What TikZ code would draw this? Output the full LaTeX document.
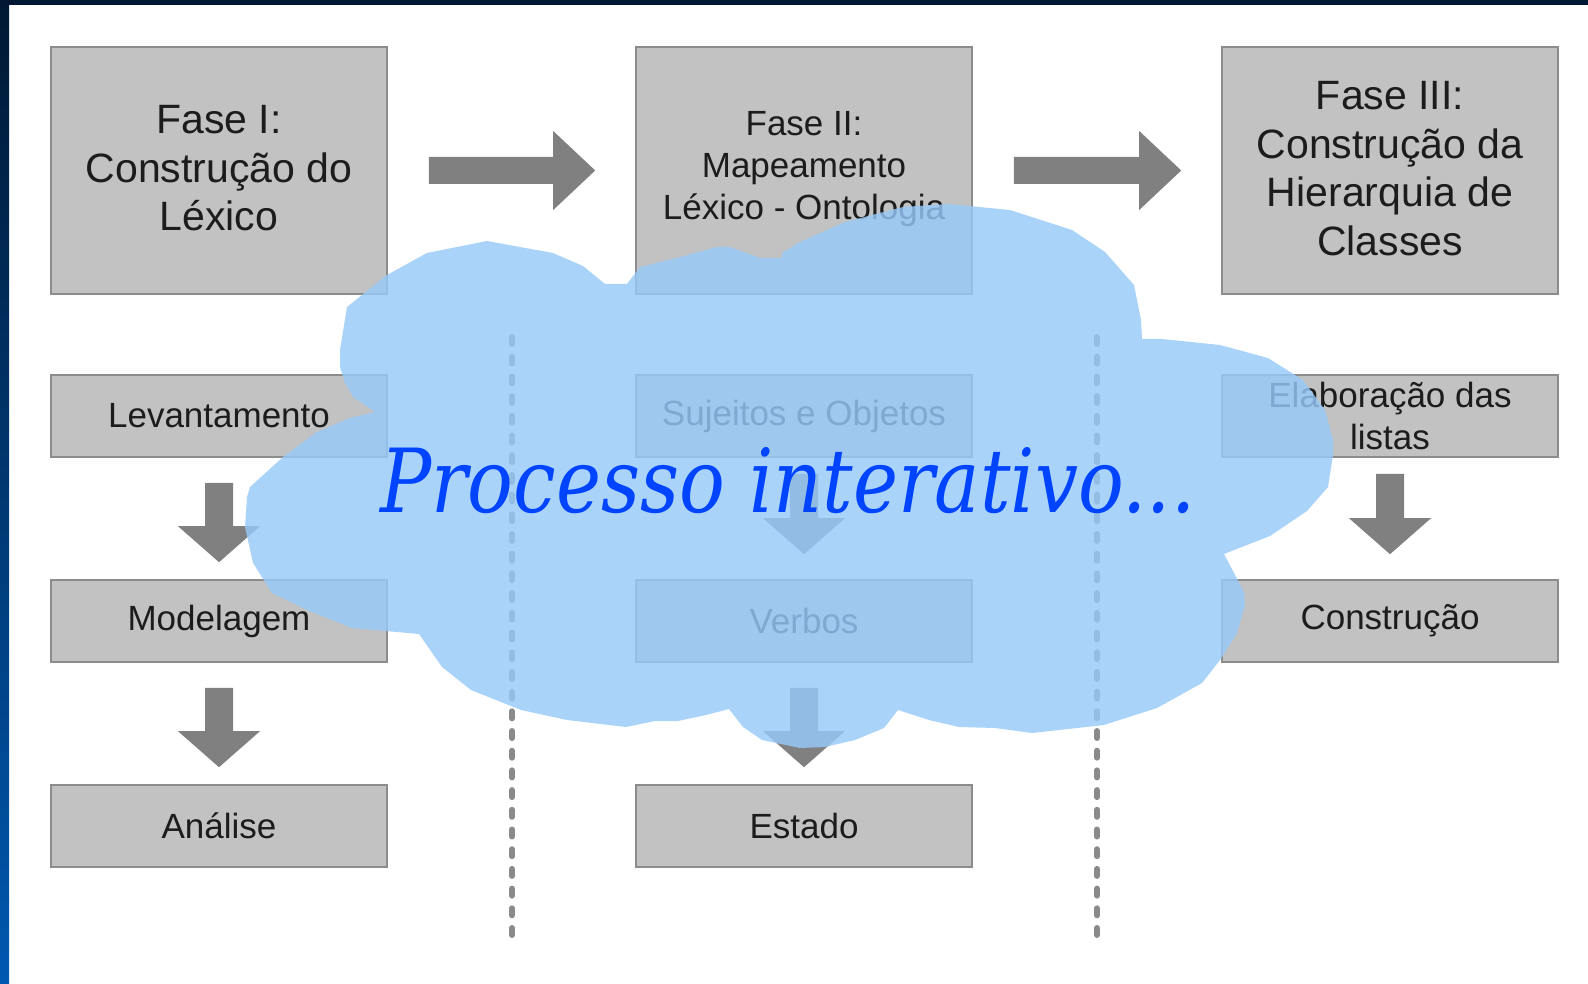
\documentclass[tikz,border=0pt]{standalone}
\usepackage{fontspec}
\setmainfont{Liberation Sans}
\newfontfamily\cloudfont{DejaVu Serif}
\usetikzlibrary{calc}

\definecolor{boxfill}{RGB}{194,194,194}
\definecolor{boxline}{RGB}{140,140,140}
\definecolor{arrowgray}{RGB}{128,128,128}
\definecolor{dotgray}{RGB}{138,138,138}
\definecolor{cloudblue}{RGB}{151,202,250}
\definecolor{titleblue}{RGB}{0,68,255}
\definecolor{navytop}{RGB}{0,24,51}
\definecolor{navybottom}{RGB}{0,88,176}
\definecolor{textdark}{RGB}{28,28,28}

\tikzset{
  phasebox/.style={draw=boxline, line width=1.6pt, fill=boxfill, text=textdark,
    minimum width=336pt, minimum height=247pt, inner sep=0pt, align=center},
  stagebox/.style={draw=boxline, line width=1.6pt, fill=boxfill, text=textdark,
    minimum width=336pt, minimum height=82pt, inner sep=0pt, align=center,
    font=\fontsize{35}{42}\selectfont},
  bigtext/.style={font=\fontsize{41}{48.5}\selectfont},
  midtext/.style={font=\fontsize{35}{42}\selectfont},
  dotline/.style={draw=dotgray, line width=6pt, line cap=round,
    dash pattern=on 7pt off 12.7pt},
  cloudshape/.style={fill=cloudblue, fill opacity=0.81}
}

% block arrow pointing right, between two boxes
\newcommand\blockright[2]{%
  \fill[arrowgray] let \p1=(#1.east), \p2=(#2.west) in
    (\x1+41pt,\y1+13.5pt) -- (\x2-82pt,\y1+13.5pt) -- (\x2-82pt,\y1+39.5pt)
    -- (\x2-40pt,\y1) -- (\x2-82pt,\y1-39.5pt) -- (\x2-82pt,\y1-13.5pt)
    -- (\x1+41pt,\y1-13.5pt) -- cycle;}

% block arrow pointing down: source, target, top gap, bottom gap
\newcommand\blockdown[4]{%
  \fill[arrowgray] let \p1=(#1.south), \p2=(#2.north) in
    (\x1-14pt,\y1-#3pt) -- (\x1+14pt,\y1-#3pt) -- (\x1+14pt,\y2+#4pt+36pt)
    -- (\x1+41pt,\y2+#4pt+36pt) -- (\x1,\y2+#4pt) -- (\x1-41pt,\y2+#4pt+36pt)
    -- (\x1-14pt,\y2+#4pt+36pt) -- cycle;}

\begin{document}
\begin{tikzpicture}[x=1pt,y=-1pt]
\useasboundingbox (0,0) rectangle (1588,984);
\fill[white] (0,0) rectangle (1588,984);

% slide frame
\fill[navytop] (0,0) rectangle (1588,5);
\shade[top color=navytop, bottom color=navybottom] (0,0) rectangle (9,984);

% phase headers
\node[phasebox] (f1) at (219,170.5) {};
\node[phasebox] (f2) at (804,170.5) {};
\node[phasebox] (f3) at (1390,170.5) {};
\node[bigtext, text=textdark, align=center] (f1t) at ([yshift=2pt]f1.center) {Fase I:\\Construção do\\Léxico};
\node[midtext, text=textdark, align=center] (f2t) at ([yshift=1pt]f2.center) {Fase II:\\Mapeamento\\Léxico - Ontologia};
\node[bigtext, text=textdark, align=center] (f3t) at ([yshift=2pt]f3.center) {Fase III:\\Construção da\\Hierarquia de\\Classes};

% stages of each phase
\node[stagebox] (lev) at (219,416) {Levantamento};
\node[stagebox] (mod) at (219,621) {Modelagem};
\node[stagebox] (ana) at (219,826) {Análise};

\node[stagebox] (suj) at (804,416) {Sujeitos e Objetos};
\node[stagebox] (ver) at (804,621) {Verbos};
\node[stagebox] (est) at (804,826) {Estado};

\node[stagebox] (ela) at (1390,416) {Elaboração das\\listas};
\node[stagebox] (con) at (1390,621) {Construção};

% flow between phases
\blockright{f1}{f2}
\blockright{f2}{f3}

% flow inside each phase
\blockdown{lev}{mod}{25}{17}
\blockdown{mod}{ana}{25}{17}
\blockdown{suj}{ver}{16}{25}
\blockdown{ver}{est}{25}{17}
\blockdown{ela}{con}{16}{25}

% column separators
\coordinate (sepAtop) at (512,337);
\coordinate (sepAbot) at (512,939);
\coordinate (sepBtop) at (1097,337);
\coordinate (sepBbot) at (1097,939);
\draw[dotline] (sepAtop) -- (sepAbot);
\draw[dotline] (sepBtop) -- (sepBbot);

% cloud
\path[cloudshape]
  (375,412) -- (353,397) -- (345,383) -- (340,367) -- (340,350) -- (347,307)
  -- (387,275) -- (427,253) -- (487,241) -- (553,253) -- (583,266) -- (605,284)
  -- (627,284) -- (640,267) -- (680,257) -- (717,247) -- (730,247) -- (760,258)
  -- (782,258) -- (782,253) -- (800,242) -- (845,222) -- (903,207) -- (948,204)
  -- (1010,210) -- (1072,230) -- (1105,252) -- (1134,285) -- (1141,320)
  -- (1142,339) -- (1162,339) -- (1220,345) -- (1268,358) -- (1303,380)
  -- (1325,410) -- (1333,440) -- (1333,455) -- (1328,487) -- (1307,511)
  -- (1270,536) -- (1224,554) -- (1244,592) -- (1245,605) -- (1237,633)
  -- (1220,660) -- (1202,683) -- (1157,708) -- (1104,725) -- (1032,733)
  -- (995,728) -- (959,727) -- (929,720) -- (898,710) -- (884,728) -- (855,740)
  -- (825,747) -- (800,748) -- (762,740) -- (743,727) -- (729,709) -- (706,715)
  -- (678,721) -- (655,721) -- (626,727) -- (567,720) -- (521,710) -- (471,690)
  -- (442,667) -- (419,634) -- (352,628) -- (307,610) -- (272,593) -- (253,563)
  -- (245,527) -- (247,497) -- (250,487) -- (283,457) -- (317,432) -- (350,418)
  -- cycle;

\node[anchor=base west, inner sep=0pt, text=titleblue] (proc) at (380,512)
  {\resizebox{815pt}{65pt}{\cloudfont\itshape Processo interativo...}};
\end{tikzpicture}
\end{document}
